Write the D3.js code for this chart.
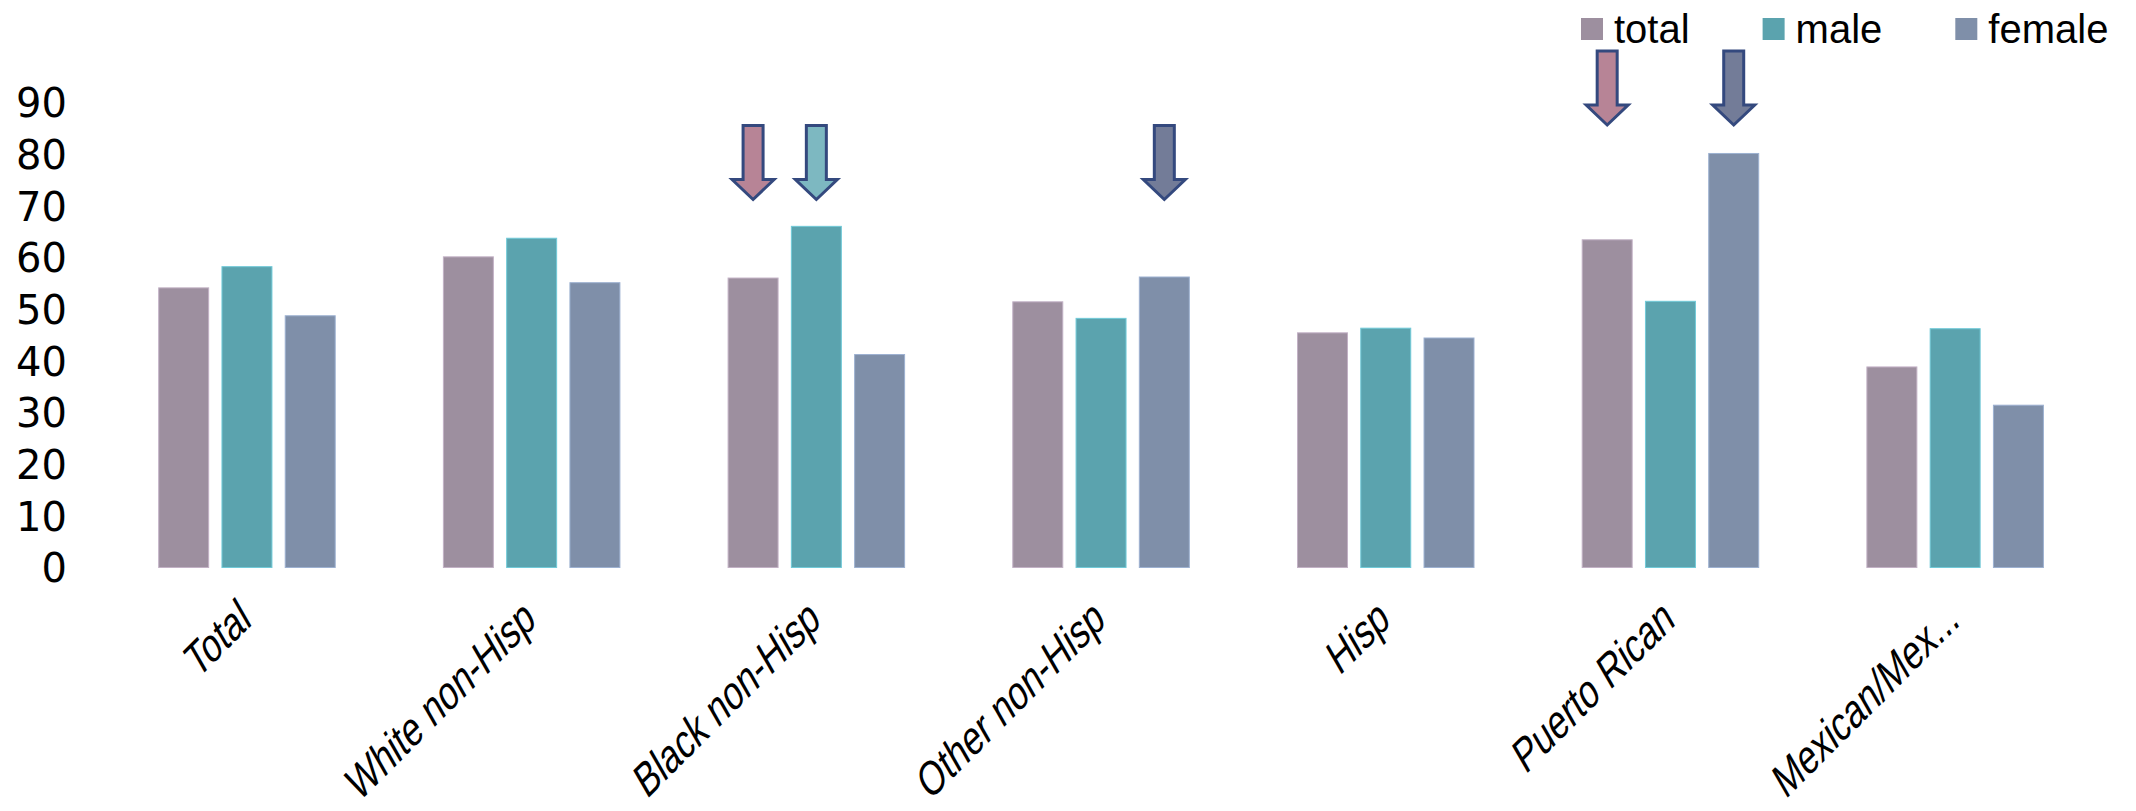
<!DOCTYPE html>
<html>
<head>
<meta charset="utf-8">
<script src="https://cdn.jsdelivr.net/npm/d3@7"></script>
<style>
  body { margin: 0; background: #fff; }
  svg { display: block; }
</style>
</head>
<body>
<svg width="2136" height="811"></svg>
<script>
const categories = ["Total", "White non-Hisp", "Black non-Hisp", "Other non-Hisp", "Hisp", "Puerto Rican", "Mexican/Mex..."];
const seriesNames = ["total", "male", "female"];
const totalValues  = [54.1, 60.1, 56.0, 51.4, 45.4, 63.4, 38.8];
const maleValues   = [58.2, 63.7, 66.0, 48.2, 46.3, 51.5, 46.2];
const femaleValues = [48.7, 55.1, 41.2, 56.2, 44.4, 80.1, 31.4];
const yTicks = [0, 10, 20, 30, 40, 50, 60, 70, 80, 90];

// annotation arrows: which bar they point at, and the value at the arrow tip
const arrowCategories = ["Black non-Hisp", "Black non-Hisp", "Other non-Hisp", "Puerto Rican", "Puerto Rican"];
const arrowSeries     = ["total", "male", "female", "total", "female"];
const arrowTipValues  = [71.2, 71.2, 71.2, 85.6, 85.6];

const colors = {total: "#9d8f9f", male: "#5ba3ae", female: "#7f8fa9"};
const arrowColors = {total: "#b78496", male: "#7db8c1", female: "#737c98"};

const svg = d3.select("svg");

const x0 = d3.scaleBand()
  .domain(categories)
  .range([104.6, 2097.5])
  .paddingInner(0.38)
  .paddingOuter(0.19);

const x1 = d3.scaleBand()
  .domain(seriesNames)
  .range([0, x0.bandwidth()])
  .paddingInner(0.21);

const y = d3.scaleLinear().domain([0, 90]).range([567.5, 102.3]);

const values = {total: totalValues, male: maleValues, female: femaleValues};
const rows = categories.map((c, i) => ({cat: c, vals: seriesNames.map(s => ({s, v: values[s][i]}))}));

// BARS
svg.append("g")
  .selectAll("g")
  .data(rows)
  .join("g")
  .attr("transform", d => `translate(${x0(d.cat)},0)`)
  .selectAll("rect")
  .data(d => d.vals)
  .join("rect")
  .attr("x", d => x1(d.s))
  .attr("y", d => y(d.v))
  .attr("width", x1.bandwidth())
  .attr("height", d => y(0) - y(d.v))
  .attr("fill", d => colors[d.s])
  .attr("stroke", d => d3.color(colors[d.s]).brighter(0.6))
  .attr("stroke-width", 1);

// Y AXIS
const yAxis = svg.append("g")
  .attr("transform", "translate(67,0)")
  .call(d3.axisLeft(y).tickValues(yTicks).tickSize(0).tickPadding(0));
yAxis.select(".domain").remove();
yAxis.selectAll("text")
  .attr("font-family", "DejaVu Sans")
  .attr("font-size", 40)
  .attr("fill", "#000")
  .attr("dy", "0.36em");

// X AXIS LABELS (rotated, slanted and narrowed like the original)
const xAxis = svg.append("g")
  .attr("transform", "translate(0,624)")
  .call(d3.axisBottom(x0).tickSize(0).tickPadding(0));
xAxis.select(".domain").remove();
xAxis.selectAll("text")
  .attr("font-family", "Liberation Sans")
  .attr("font-size", 44)
  .attr("fill", "#000")
  .attr("text-anchor", "end")
  .attr("y", 0)
  .attr("dy", 0)
  .attr("transform", "translate(6,0) rotate(-45) skewX(-15) scale(0.84,1)");

// ARROWS
function arrowPath(cx, tip) {
  const len = 74, sw = 20, hw = 42, hl = 20;
  return `M${cx - sw / 2},${tip - len} L${cx + sw / 2},${tip - len} L${cx + sw / 2},${tip - hl} ` +
         `L${cx + hw / 2},${tip - hl} L${cx},${tip} L${cx - hw / 2},${tip - hl} L${cx - sw / 2},${tip - hl} Z`;
}
svg.append("g")
  .selectAll("path")
  .data(arrowCategories.map((c, i) => ({c, s: arrowSeries[i], v: arrowTipValues[i]})))
  .join("path")
  .attr("d", d => arrowPath(x0(d.c) + x1(d.s) + x1.bandwidth() / 2, y(d.v)))
  .attr("fill", d => arrowColors[d.s])
  .attr("stroke", "#34497e")
  .attr("stroke-width", 3)
  .attr("stroke-linejoin", "miter");

// LEGEND
const legend = svg.append("g").attr("transform", "translate(1581,18)");
let lx = 0;
seriesNames.forEach(s => {
  const item = legend.append("g").attr("transform", `translate(${lx},0)`);
  item.append("rect")
    .attr("width", 22).attr("height", 22)
    .attr("fill", colors[s]);
  const t = item.append("text")
    .attr("x", 33).attr("y", 25)
    .attr("font-family", "Liberation Sans")
    .attr("font-size", 40)
    .attr("fill", "#000")
    .text(s);
  lx += 33 + t.node().getComputedTextLength() + 73;
});
</script>
</body>
</html>
